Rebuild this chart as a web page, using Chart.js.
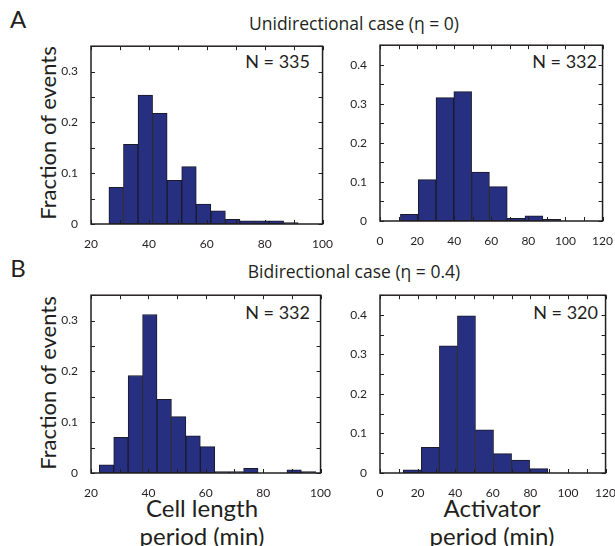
<!DOCTYPE html>
<html>
<head>
<meta charset="utf-8">
<script src="https://cdn.jsdelivr.net/npm/chart.js@4/dist/chart.umd.min.js"></script>
<style>
	html,body{margin:0;padding:0;background:#fff;}
	body{width:615px;height:546px;position:relative;overflow:hidden;font-family:Lato,sans-serif;color:#231f20;}
	.txt{position:absolute;white-space:nowrap;line-height:1;transform:translate(-50%,-50%);}
	.ttl{position:absolute;white-space:nowrap;line-height:1;font-family:'Open Sans',sans-serif;font-size:17.5px;transform:translate(-50%,-50%);}
	.nlab{position:absolute;white-space:nowrap;line-height:1;font-size:18px;transform:translate(-100%,-50%);}
	.ytitle{position:absolute;white-space:nowrap;line-height:1;font-size:22px;transform:translate(-50%,-50%) rotate(-90deg);}
	canvas{position:absolute;}
</style>
</head>
<body>

<div class="txt" style="left:18px;top:19px;font-size:24px;">A</div>
<div class="ttl" style="left:354px;top:24px;">Unidirectional case (η = 0)</div>
<div class="txt" style="left:18px;top:268px;font-size:24px;">B</div>
<div class="ttl" style="left:354px;top:272px;">Bidirectional case (η = 0.4)</div>

<div class="ytitle" style="left:48px;top:133px;">Fraction of events</div>
<div class="ytitle" style="left:48px;top:383px;">Fraction of events</div>

<div class="nlab" style="left:310px;top:61px;">N = 335</div>
<div class="nlab" style="left:597px;top:61px;">N = 332</div>
<div class="nlab" style="left:310px;top:312px;">N = 332</div>
<div class="nlab" style="left:598px;top:312px;">N = 320</div>

<div class="txt" style="left:202px;top:508px;font-size:24px;">Cell length</div>
<div class="txt" style="left:202px;top:536px;font-size:24px;">period (min)</div>
<div class="txt" style="left:492px;top:508px;font-size:24px;">Activator</div>
<div class="txt" style="left:492px;top:536px;font-size:24px;">period (min)</div>

<canvas id="uniCell" style="left:41px;top:34px;" width="297" height="215"></canvas>
<canvas id="uniAct" style="left:330px;top:33px;" width="288" height="213"></canvas>
<canvas id="biCell" style="left:41px;top:283px;" width="295" height="215"></canvas>
<canvas id="biAct" style="left:330px;top:283px;" width="291" height="215"></canvas>

<script>
// bin centres (min) and fraction of events
var uniCellBins = [28.7, 33.73, 38.76, 43.79, 48.82, 53.85, 58.88, 63.91, 68.94, 73.97, 79.0, 84.03, 89.06];
var uniCellFrac = [0.072, 0.157, 0.254, 0.218, 0.086, 0.113, 0.039, 0.026, 0.009, 0.006, 0.006, 0.006, 0.003];

var uniActBins = [15.8, 25.4, 35.0, 44.6, 54.2, 63.8, 73.4, 83.0, 92.6];
var uniActFrac = [0.017, 0.106, 0.316, 0.331, 0.125, 0.088, 0.007, 0.013, 0.004];

var biCellBins = [25.4, 30.43, 35.46, 40.49, 45.52, 50.55, 55.58, 60.61, 65.64, 70.67, 75.7, 80.73, 85.76, 90.79, 95.82];
var biCellFrac = [0.016, 0.070, 0.192, 0.312, 0.145, 0.111, 0.073, 0.052, 0.003, 0.003, 0.009, 0, 0, 0.006, 0.003];

var biActBins = [17.2, 26.8, 36.4, 46.0, 55.6, 65.2, 74.8, 84.4];
var biActFrac = [0.008, 0.065, 0.322, 0.398, 0.109, 0.049, 0.033, 0.011];

// axis ranges
var cellRange = [20, 100];
var actRange = [0, 120];
var uniCellYMax = 0.35, uniActYMax = 0.45, biCellYMax = 0.35, biActYMax = 0.45;

Chart.defaults.font.family = "Lato, sans-serif";
Chart.defaults.font.size = 12;
Chart.defaults.color = '#231f20';

//------------------------------------------------------------//
//------------- box frame with inward ticks ------------------//
//------------------------------------------------------------//
var boxTicks = {
	id: 'boxTicks',
	afterDatasetsDraw: function(chart){
		var ctx = chart.ctx, a = chart.chartArea;
		var xs = chart.scales.x, ys = chart.scales.y;
		ctx.save();
		ctx.strokeStyle = '#231f20';
		ctx.lineWidth = 1;
		ctx.beginPath();
		xs.ticks.forEach(function(t){
			var px = Math.round(xs.getPixelForValue(t.value)) + 0.5;
			ctx.moveTo(px, a.bottom); ctx.lineTo(px, a.bottom - 4);
			ctx.moveTo(px, a.top); ctx.lineTo(px, a.top + 4);
		});
		ys.ticks.forEach(function(t){
			var py = Math.round(ys.getPixelForValue(t.value)) + 0.5;
			ctx.moveTo(a.left, py); ctx.lineTo(a.left + 4, py);
			ctx.moveTo(a.right, py); ctx.lineTo(a.right - 4, py);
		});
		ctx.stroke();
		ctx.lineWidth = 1.5;
		ctx.strokeRect(a.left, a.top, a.right - a.left, a.bottom - a.top);
		ctx.restore();
	}
};

function makeHistogram(id, bins, frac, xRange, yMax){
	var pts = [];
	for(var i=0;i<bins.length;i++){
		pts.push({x: bins[i], y: frac[i]});
	}
	return new Chart(document.getElementById(id), {
		type: 'bar',
		data: {
			datasets: [{
				data: pts,
				backgroundColor: '#262f80',
				borderColor: '#1a1a2a',
				borderWidth: 1,
				borderSkipped: false,
				barPercentage: 1,
				categoryPercentage: 1
			}]
		},
		options: {
			responsive: false,
			animation: false,
			layout: {padding: {top: 10, right: 12, left: 0, bottom: 0}},
			plugins: {legend: {display: false}, tooltip: {enabled: false}},
			scales: {
				x: {
					type: 'linear',
					min: xRange[0],
					max: xRange[1],
					offset: false,
					grid: {display: false, offset: false},
					border: {display: false},
					afterFit: function(s){ s.height = 25; },
					ticks: {
						stepSize: 10,
						autoSkip: false,
						maxRotation: 0,
						padding: 5,
						callback: function(v){ return v % 20 === 0 ? String(v) : ''; }
					}
				},
				y: {
					min: 0,
					max: yMax,
					grid: {display: false},
					border: {display: false},
					afterFit: function(s){ s.width = 50; },
					ticks: {
						stepSize: 0.05,
						autoSkip: false,
						padding: 5,
						callback: function(v){
							var r = Math.round(v*10);
							if(Math.abs(v*10 - r) > 1e-6) return '';
							return r === 0 ? '0' : String(r/10);
						}
					}
				}
			}
		},
		plugins: [boxTicks]
	});
}

makeHistogram('uniCell', uniCellBins, uniCellFrac, cellRange, uniCellYMax);
makeHistogram('uniAct', uniActBins, uniActFrac, actRange, uniActYMax);
makeHistogram('biCell', biCellBins, biCellFrac, cellRange, biCellYMax);
makeHistogram('biAct', biActBins, biActFrac, actRange, biActYMax);
</script>
</body>
</html>
